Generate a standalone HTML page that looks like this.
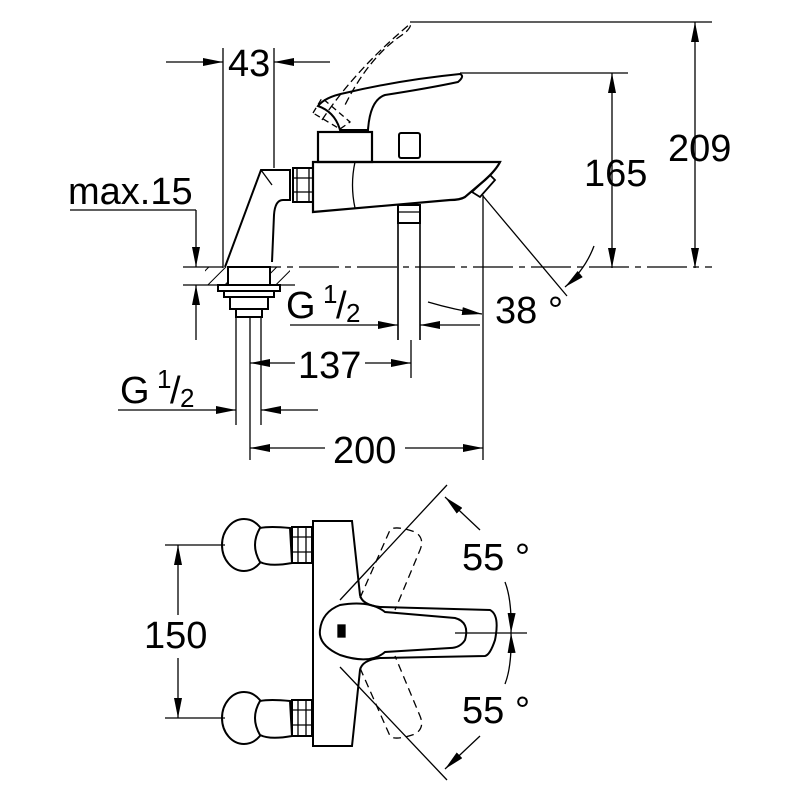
<!DOCTYPE html>
<html><head><style>
html,body{margin:0;padding:0;background:#fff}
svg{display:block}
text{font-family:"Liberation Sans",Arial,sans-serif;fill:#000}
</style></head><body>
<svg width="800" height="800" viewBox="0 0 800 800" xmlns="http://www.w3.org/2000/svg">
<defs>
<marker id="a" viewBox="0 0 20 8" refX="20" refY="4" markerWidth="20" markerHeight="8" orient="auto-start-reverse" markerUnits="userSpaceOnUse"><path d="M0,0L20,4L0,8z" fill="#000"/></marker>
<pattern id="h" width="12" height="12" patternUnits="userSpaceOnUse" patternTransform="rotate(45)"><line x1="0" y1="0" x2="0" y2="12" stroke="#000" stroke-width="2"/></pattern>
</defs>
<g fill="none" stroke="#000" stroke-width="1.3">
<line x1="223" y1="48" x2="223" y2="268"/>
<line x1="274" y1="48" x2="274" y2="168"/>
<line x1="166" y1="62" x2="223" y2="62" marker-end="url(#a)"/>
<line x1="330" y1="62" x2="274" y2="62" marker-end="url(#a)"/>
<line x1="410" y1="22" x2="712" y2="22"/>
<line x1="695" y1="22" x2="695" y2="268" marker-start="url(#a)" marker-end="url(#a)"/>
<line x1="460" y1="73" x2="628" y2="73"/>
<line x1="612" y1="73" x2="612" y2="268" marker-start="url(#a)" marker-end="url(#a)"/>
<line x1="183" y1="267" x2="712" y2="267" stroke-dasharray="40 6 6 6"/>
<line x1="183" y1="285" x2="295" y2="285"/>
<line x1="70" y1="210" x2="196" y2="210"/>
<line x1="196" y1="210" x2="196" y2="267" marker-end="url(#a)"/>
<line x1="196" y1="340" x2="196" y2="285" marker-end="url(#a)"/>
<rect x="205" y="267" width="85" height="18" fill="url(#h)" stroke="none"/>
<rect x="228" y="267" width="42" height="18" fill="#fff" stroke="#000" stroke-width="2"/>
<rect x="218" y="285" width="62" height="6" stroke-width="2"/>
<rect x="224" y="291" width="50" height="6" stroke-width="2"/>
<rect x="230" y="297" width="38" height="12" stroke-width="2"/>
<rect x="236" y="309" width="26" height="8" stroke-width="2"/>
<line x1="236" y1="317" x2="236" y2="425"/>
<line x1="250" y1="317" x2="250" y2="460"/>
<line x1="261" y1="317" x2="261" y2="425"/>
<path d="M225,267 L261,170 L290,170 L290,200 L283,200 Q275,200 274,215 L272,262" stroke-width="2"/>
<line x1="261" y1="170" x2="272" y2="185"/>
<rect x="293" y="168" width="20" height="34" stroke-width="2"/>
<path d="M293,178h20M293,192h20M297,168v34M309,168v34"/>
<path d="M313,162 L500,162 Q496,170 485,180 L465,197 Q460,200 450,200 L313,212 Z" stroke-width="2.2"/>
<path d="M355,162 Q350,185 355,208"/>
<path d="M472,192 L490,175 L495,180 L480,197 Z" stroke-width="1.8"/>
<rect x="318" y="132" width="54" height="30" stroke-width="2.2"/>
<rect x="399" y="133" width="21" height="25" rx="2" stroke-width="2"/>
<rect x="398" y="205" width="22" height="18" stroke-width="2"/>
<line x1="398" y1="212" x2="420" y2="212"/>
<line x1="398" y1="223" x2="398" y2="340" stroke-width="1.6"/>
<line x1="420" y1="223" x2="420" y2="340" stroke-width="1.6"/>
<line x1="411" y1="340" x2="411" y2="378"/>
<path d="M318,106 Q325,97 345,93 Q400,80 460,74 Q465,76 458,82 Q430,88 385,95 Q370,100 368,130 L340,130 Q335,112 318,106 Z" stroke-width="2"/>
<path d="M322,120 Q355,70 410,24 Q412,26 405,33 Q370,55 345,105" stroke-dasharray="8 4"/>
<path d="M313,113 L322,98 L350,122 L340,129 Z" stroke-dasharray="6 4"/>
<line x1="483" y1="195" x2="483" y2="460"/>
<line x1="483" y1="196" x2="567" y2="296"/>
<path d="M594,246 Q585,270 565,287" marker-end="url(#a)"/>
<line x1="290" y1="325" x2="398" y2="325" marker-end="url(#a)"/>
<line x1="480" y1="325" x2="420" y2="325" marker-end="url(#a)"/>
<path d="M428,302 Q455,310 482,314" marker-end="url(#a)"/>
<line x1="295" y1="363" x2="250" y2="363" marker-end="url(#a)"/>
<line x1="365" y1="363" x2="411" y2="363" marker-end="url(#a)"/>
<line x1="118" y1="410" x2="236" y2="410" marker-end="url(#a)"/>
<line x1="318" y1="410" x2="261" y2="410" marker-end="url(#a)"/>
<line x1="325" y1="448" x2="250" y2="448" marker-end="url(#a)"/>
<line x1="405" y1="448" x2="483" y2="448" marker-end="url(#a)"/>

<line x1="165" y1="545" x2="225" y2="545"/>
<line x1="165" y1="718" x2="225" y2="718"/>
<line x1="178" y1="615" x2="178" y2="545" marker-end="url(#a)"/>
<line x1="178" y1="658" x2="178" y2="718" marker-end="url(#a)"/>
<g stroke-width="2">
<path d="M222,545 a22,26 0 1 0 44,0 a22,26 0 1 0 -44,0"/>
<path d="M260,528 Q270,526 290,528 L292,563 Q270,567 260,562 Q250,545 260,528Z" fill="#fff"/>
<rect x="292" y="527" width="20" height="36" fill="#fff"/>
<path d="M222,718 a22,26 0 1 0 44,0 a22,26 0 1 0 -44,0"/>
<path d="M260,701 Q270,699 290,701 L292,736 Q270,740 260,735 Q250,718 260,701Z" fill="#fff"/>
<rect x="292" y="700" width="20" height="36" fill="#fff"/>
<path d="M313,521 L352,521 L360,595 Q362,605 380,607 L490,610 Q500,615 495,640 Q490,655 485,656 L380,658 Q362,660 360,670 L352,746 L313,746 Z" fill="#fff"/>
<path d="M340,605 Q370,600 385,612 L455,618 Q470,622 465,640 Q460,648 450,648 L385,652 Q370,665 340,655 Q318,645 320,630 Q322,612 340,605 Z"/>
</g>
<path d="M292,537h20M292,552h20M292,710h20M292,725h20M298,527v36M306,527v36M298,700v36M306,700v36"/>
<rect x="338" y="625" width="7" height="12" fill="#000"/>
<g stroke-dasharray="8 5">
<path d="M360,598 L390,530 Q395,525 415,532 Q425,538 420,550 L395,610"/>
<path d="M360,668 L390,736 Q395,741 415,734 Q425,728 420,716 L395,656"/>
</g>
<line x1="340" y1="600" x2="447" y2="485"/>
<line x1="340" y1="667" x2="447" y2="780"/>
<line x1="455" y1="633" x2="527" y2="633"/>
<line x1="480" y1="530" x2="445" y2="497" marker-end="url(#a)"/>
<line x1="480" y1="736" x2="445" y2="769" marker-end="url(#a)"/>
<path d="M505,582 Q512,600 511,633" marker-end="url(#a)"/>
<path d="M505,684 Q512,666 511,633" marker-end="url(#a)"/>
</g>
<g font-size="38">
<text x="228" y="76">43</text>
<text x="668" y="161">209</text>
<text x="584" y="186">165</text>
<text x="68" y="204">max.15</text>
<text x="286" y="318">G</text><text x="323" y="303" font-size="26">1</text><text x="336" y="318">/</text><text x="346" y="322" font-size="26">2</text>
<text x="495" y="323">38 °</text>
<text x="298" y="378">137</text>
<text x="120" y="403">G</text><text x="157" y="388" font-size="26">1</text><text x="170" y="403">/</text><text x="180" y="407" font-size="26">2</text>
<text x="333" y="463">200</text>
<text x="144" y="648">150</text>
<text x="462" y="570">55 °</text>
<text x="462" y="723">55 °</text>
</g>
</svg>
</body></html>
